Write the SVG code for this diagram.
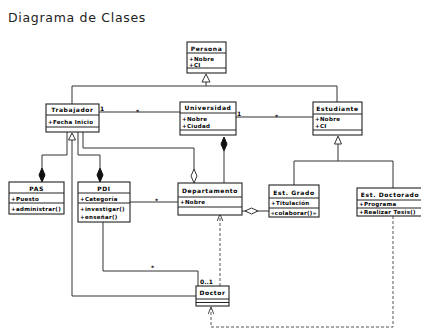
<svg xmlns="http://www.w3.org/2000/svg" width="421" height="329" viewBox="0 0 421 329">
<style>
.title{font-family:"DejaVu Sans",sans-serif;font-size:12.5px;letter-spacing:0.7px;fill:#222}
.box{fill:#fff;stroke:#222;stroke-width:1.1}
.sep{stroke:#222;stroke-width:1}
.name{font-family:"DejaVu Sans",sans-serif;font-size:6px;font-weight:bold;letter-spacing:0.6px;text-anchor:middle;fill:#000}
.attr{font-family:"DejaVu Sans",sans-serif;font-size:5.5px;font-weight:bold;letter-spacing:0.3px;fill:#000}
.ln{fill:none;stroke:#333;stroke-width:1}
.dash{fill:none;stroke:#555;stroke-width:1;stroke-dasharray:3,2}
.lbl{font-family:"DejaVu Sans",sans-serif;font-size:6px;font-weight:bold;fill:#000}
.fd{fill:#111;stroke:#111;stroke-width:1}
.hd{fill:#fff;stroke:#333;stroke-width:1}
</style>
<defs>
<marker id="open" viewBox="0 0 10 10" refX="10" refY="5" markerWidth="7" markerHeight="7" orient="auto" markerUnits="userSpaceOnUse">
<path d="M0,1 L10,5 L0,9" fill="none" stroke="#444" stroke-width="1.4"/>
</marker>
</defs>
<rect width="421" height="329" fill="#fff"/>
<text class="title" x="8" y="22">Diagrama de Clases</text>

<g id="connectors">
<path class="ln" d="M206,82 V86 M72,86 H337 M72,86 V104 M337,86 V102"/>
<polygon class="hd" points="206,74 210,82 202,82"/>
<path class="ln" d="M99,112 H180"/>
<text class="lbl" x="100" y="111">1</text>
<text class="lbl" x="136" y="114">*</text>
<path class="ln" d="M236,117 H313"/>
<text class="lbl" x="237" y="116">1</text>
<text class="lbl" x="275" y="119">*</text>
<path class="ln" d="M224,151 V183"/>
<polygon class="fd" points="224,137 227,144 224,151 221,144"/>
<path class="ln" d="M83,132 V148 H194 V170"/>
<polygon class="hd" points="194,169 197,176 194,183 191,176"/>
<path class="ln" d="M67,132 V155 H42 V168"/>
<polygon class="fd" points="42,168 45,175 42,182 39,175"/>
<path class="ln" d="M78,132 V155 H100 V168"/>
<polygon class="fd" points="100,168 103,175 100,182 97,175"/>
<path class="ln" d="M72,140 V296 H196"/>
<polygon class="hd" points="72,133 75.5,140 68.5,140"/>
<path class="ln" d="M130,202 H178"/>
<text class="lbl" x="155" y="203">*</text>
<path class="ln" d="M103,222 V271 H198 V286"/>
<text class="lbl" x="151" y="270">*</text>
<text class="lbl" x="200" y="284">0..1</text>
<path class="ln" d="M242,211 H269"/>
<polygon class="hd" points="245,211 251.5,208 258,211 251.5,214"/>
<path class="ln" d="M338,144 V161 M294,161 H393 M294,161 V185 M393,161 V188"/>
<polygon class="hd" points="338,136 341.5,144 334.5,144"/>
<path class="dash" d="M220,286 V214" marker-end="url(#open)"/>
<path class="dash" d="M393,216 V327 H211 V307" marker-end="url(#open)"/>
</g>

<g id="persona">
<rect class="box" x="187" y="42" width="39" height="31"/>
<path class="sep" d="M187,53 H226 M187,68 H226"/>
<text class="name" x="206.5" y="50.5">Persona</text>
<text class="attr" x="189" y="60.5">+Nobre</text>
<text class="attr" x="189" y="66.5">+CI</text>
</g>

<g id="trabajador">
<rect class="box" x="46" y="104" width="53" height="28"/>
<path class="sep" d="M46,115 H99 M46,127 H99"/>
<text class="name" x="72.5" y="112">Trabajador</text>
<text class="attr" x="48" y="123.5">+Fecha Inicio</text>
</g>

<g id="universidad">
<rect class="box" x="180" y="102" width="56" height="33"/>
<path class="sep" d="M180,113 H236 M180,130 H236"/>
<text class="name" x="208" y="110">Universidad</text>
<text class="attr" x="182" y="120.5">+Nobre</text>
<text class="attr" x="182" y="127.5">+Ciudad</text>
</g>

<g id="estudiante">
<rect class="box" x="313" y="102" width="49" height="33"/>
<path class="sep" d="M313,114 H362 M313,130 H362"/>
<text class="name" x="337.5" y="111">Estudiante</text>
<text class="attr" x="315" y="121">+Nobre</text>
<text class="attr" x="315" y="128">+CI</text>
</g>

<g id="pas">
<rect class="box" x="9" y="182" width="55" height="32"/>
<path class="sep" d="M9,193 H64 M9,203 H64"/>
<text class="name" x="36.5" y="190.5">PAS</text>
<text class="attr" x="11" y="200.5">+Puesto</text>
<text class="attr" x="11" y="211">+administrar()</text>
</g>

<g id="pdi">
<rect class="box" x="78" y="182" width="52" height="40"/>
<path class="sep" d="M78,193 H130 M78,203 H130"/>
<text class="name" x="104" y="190.5">PDI</text>
<text class="attr" x="80" y="200.5">+Categoría</text>
<text class="attr" x="80" y="211">+investigar()</text>
<text class="attr" x="80" y="219">+enseñar()</text>
</g>

<g id="departamento">
<rect class="box" x="178" y="183" width="64" height="32"/>
<path class="sep" d="M178,197 H242 M178,207 H242"/>
<text class="name" x="210" y="193">Departamento</text>
<text class="attr" x="180" y="204">+Nobre</text>
</g>

<g id="est-grado">
<rect class="box" x="269" y="185" width="50" height="32"/>
<path class="sep" d="M269,198 H319 M269,208 H319"/>
<text class="name" x="294" y="194.5">Est. Grado</text>
<text class="attr" x="271" y="205">+Titulación</text>
<text class="attr" x="271" y="215">«colaborar()»</text>
</g>

<g id="est-doctorado">
<rect class="box" x="357" y="188" width="66" height="28"/>
<path class="sep" d="M357,200 H423 M357,208 H423"/>
<text class="name" x="390" y="197">Est. Doctorado</text>
<text class="attr" x="359" y="206">+Programa</text>
<text class="attr" x="359" y="214">+Realizar Tesis()</text>
</g>

<g id="doctor">
<rect class="box" x="196" y="286" width="33" height="20"/>
<path class="sep" d="M196,299 H229 M196,302.5 H229"/>
<text class="name" x="212.5" y="295">Doctor</text>
</g>
</svg>
